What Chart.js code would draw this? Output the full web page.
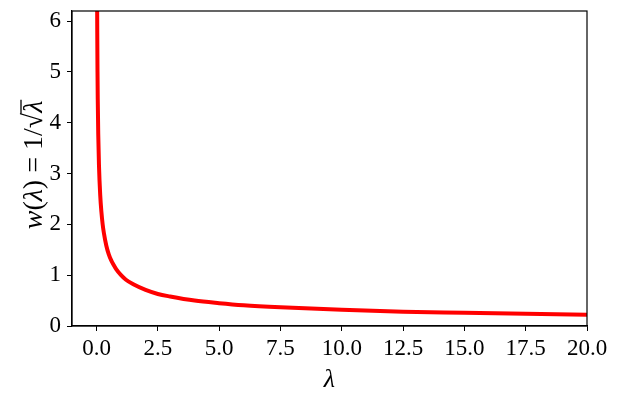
<!DOCTYPE html>
<html>
<head>
<meta charset="utf-8">
<script src="https://cdn.jsdelivr.net/npm/chart.js@4.4.0/dist/chart.umd.min.js"></script>
<style>
  html, body { margin: 0; padding: 0; background: #fff; }
  #wrap { width: 621px; height: 404px; }
</style>
</head>
<body>
<div id="wrap"><canvas id="weightChart" width="621" height="404"></canvas></div>
<script>
const lambdaValues = [0.02, 0.026, 0.03, 0.04, 0.05, 0.07, 0.1, 0.15, 0.2, 0.25, 0.3, 0.4, 0.5, 0.6, 0.7, 0.8, 1, 1.2, 1.5, 2, 2.5, 3, 4, 5, 6, 7.5, 10, 12.5, 15, 17.5, 20];
const weightValues = [7.07, 6.20, 5.77, 5.00, 4.47, 3.78, 3.16, 2.58, 2.24, 2.00, 1.83, 1.58, 1.41, 1.29, 1.20, 1.12, 1.00, 0.91, 0.82, 0.71, 0.63, 0.58, 0.50, 0.45, 0.41, 0.37, 0.32, 0.28, 0.26, 0.24, 0.22];
const xTickValues = [0, 2.5, 5, 7.5, 10, 12.5, 15, 17.5, 20];
const yTickValues = [0, 1, 2, 3, 4, 5, 6];

const serif = "'Liberation Serif', 'DejaVu Serif', serif";

// Draw axis titles with mixed italic / upright pieces
const titlesPlugin = {
    id: 'titles',
    afterDraw(chart) {
        const ctx = chart.ctx;
        const area = chart.chartArea;
        ctx.save();
        ctx.fillStyle = '#000';
        ctx.strokeStyle = '#000';
        ctx.textBaseline = 'alphabetic';

        // x title
        ctx.font = 'italic 26px ' + serif;
        ctx.textAlign = 'center';
        ctx.fillText('λ', (area.left + area.right) / 2, 387);

        // y title, rotated
        const size = 28;
        const parts = [
            ['w', true], ['(', false], ['λ', true], [')', false],
            [' = 1/', false], ['√', false], ['λ', true, true]
        ];
        let total = 0;
        parts.forEach(p => {
            ctx.font = (p[1] ? 'italic ' : '') + size + 'px ' + serif;
            total += ctx.measureText(p[0]).width;
        });
        ctx.translate(42, 165);
        ctx.rotate(-Math.PI / 2);
        ctx.textAlign = 'left';
        let x = -total / 2;
        parts.forEach(p => {
            ctx.font = (p[1] ? 'italic ' : '') + size + 'px ' + serif;
            const w = ctx.measureText(p[0]).width;
            ctx.fillText(p[0], x, 0);
            if (p[2]) {
                ctx.lineWidth = 1.3;
                ctx.beginPath();
                ctx.moveTo(x - 1, -21);
                ctx.lineTo(x + w + 1, -21);
                ctx.stroke();
            }
            x += w;
        });
        ctx.restore();
    }
};

new Chart(document.getElementById('weightChart'), {
    type: 'line',
    data: {
        datasets: [{
            data: lambdaValues.map((l, i) => ({ x: l, y: weightValues[i] })),
            borderColor: '#ff0000',
            borderWidth: 4,
            pointRadius: 0,
            cubicInterpolationMode: 'monotone',
            fill: false
        }]
    },
    options: {
        responsive: false,
        animation: false,
        layout: { padding: { top: 11, right: 34, left: 0, bottom: 0 } },
        plugins: {
            legend: { display: false },
            tooltip: { enabled: false }
        },
        scales: {
            x: {
                type: 'linear',
                min: -1,
                max: 20,
                afterBuildTicks: axis => { axis.ticks = xTickValues.map(v => ({ value: v })); },
                afterFit: axis => {
                    axis.height = 78;
                    axis.paddingLeft = 0;
                    axis.paddingRight = 0;
                },
                border: { color: '#000', width: 1.2 },
                grid: { drawOnChartArea: false, color: '#000', tickLength: 5, tickWidth: 1 },
                ticks: {
                    color: '#000',
                    padding: 4,
                    maxRotation: 0,
                    font: { family: serif, size: 23 },
                    callback: v => v.toFixed(1)
                }
            },
            y: {
                type: 'linear',
                min: 0,
                max: 6.2,
                afterBuildTicks: axis => { axis.ticks = yTickValues.map(v => ({ value: v })); },
                afterFit: axis => {
                    axis.width = 72;
                    axis.paddingTop = 0;
                    axis.paddingBottom = 0;
                },
                border: { color: '#000', width: 1.2 },
                grid: { drawOnChartArea: false, color: '#000', tickLength: 5, tickWidth: 1 },
                ticks: {
                    color: '#000',
                    padding: 6,
                    font: { family: serif, size: 23 },
                    callback: v => String(v)
                }
            }
        }
    },
    plugins: [titlesPlugin, {
        id: 'frame',
        afterDraw(chart) {
            const a = chart.chartArea;
            const ctx = chart.ctx;
            ctx.save();
            ctx.strokeStyle = '#000';
            ctx.lineWidth = 1.2;
            ctx.strokeRect(a.left, a.top, a.right - a.left, a.bottom - a.top);
            ctx.restore();
        }
    }]
});
</script>
</body>
</html>
